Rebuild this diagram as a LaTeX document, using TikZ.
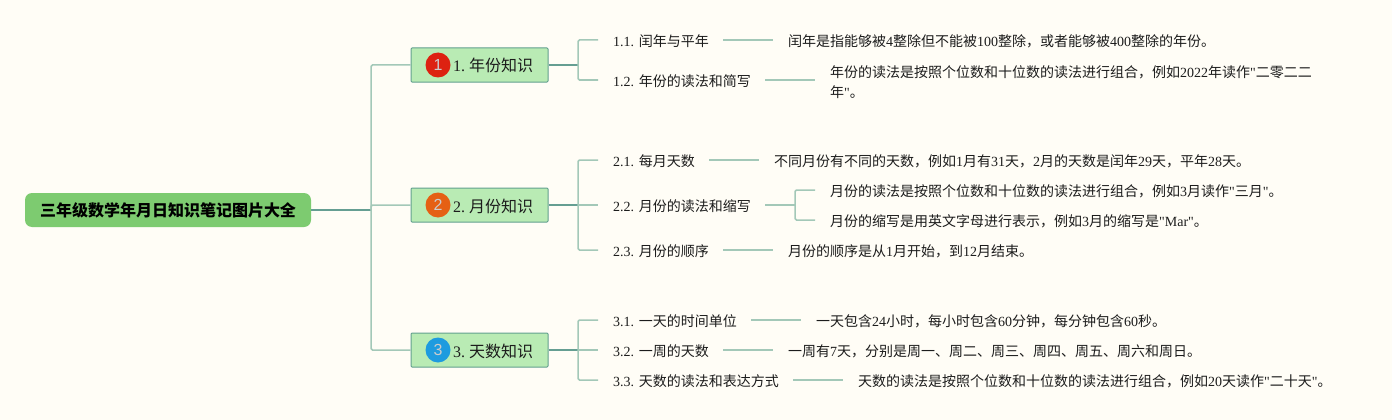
\documentclass[tikz,border=0pt]{standalone}
\usepackage{fontspec}
\setmainfont{Liberation Serif}
\setsansfont{Liberation Sans}
\newfontfamily\cjk{Noto Sans CJK SC}
\newfontfamily\qf{Liberation Serif}
\newcommand\zh[1]{{\cjk #1}}
\newcommand\q{{\qf"}}
\definecolor{bgc}{HTML}{FFFDF6}
\definecolor{rootc}{HTML}{7DCB70}
\definecolor{boxc}{HTML}{B9EBB4}
\definecolor{boxl}{HTML}{62A08E}
\definecolor{darkl}{HTML}{659E92}
\definecolor{lightl}{HTML}{A3C8B8}
\definecolor{inkc}{HTML}{1C1C1C}
\definecolor{badgea}{HTML}{DD2211}
\definecolor{badgeb}{HTML}{E56014}
\definecolor{badgec}{HTML}{1E9BDF}
\tikzset{
 rootn/.style={rectangle,rounded corners=7pt,fill=rootc,minimum width=286pt,minimum height=34pt,inner sep=0pt,font=\fontsize{16}{18}\selectfont\cjk\bfseries,text=black},
 boxn/.style={rectangle,rounded corners=1pt,draw=boxl,line width=1pt,fill=boxc,minimum width=137pt,minimum height=34pt,inner sep=0pt,text height=15pt,text depth=1pt,font=\fontsize{16}{18}\selectfont,text=inkc},
 badge/.style={circle,minimum size=25pt,inner sep=0pt,text=white!80!black,font=\sffamily\fontsize{16}{16}\selectfont},
 subn/.style={anchor=west,inner xsep=15pt,inner ysep=0pt,text height=14pt,text depth=0.5pt,text width=#1,font=\fontsize{14}{18}\selectfont,text=inkc},
 leafn/.style={anchor=west,inner xsep=15pt,inner ysep=0pt,text height=14pt,text depth=0.5pt,text width=#1,font=\fontsize{14}{18}\selectfont,text=inkc},
 leaftwo/.style={anchor=west,inner xsep=15pt,inner ysep=0pt,align=left,text width=#1,font=\fontsize{14}{20}\selectfont,text=inkc},
 main/.style={draw=darkl,line width=1.6pt},
 twig/.style={draw=lightl,line width=1.5pt,rounded corners=1.5pt},
}
\begin{document}
\frenchspacing
\begin{tikzpicture}[x=1pt,y=-1pt]
\useasboundingbox (0,0) rectangle (1392,420);
\fill[bgc] (0,0) rectangle (1392,420);
% root and main branches
\node[rootn] (root) at (168,210) {三年级数学年月日知识笔记图片大全};
\node[boxn] (b1) at (479.5,65) {\hspace*{27pt}1. \zh{年份知识}};
\node[boxn] (b2) at (479.5,205) {\hspace*{27pt}2. \zh{月份知识}};
\node[boxn] (b3) at (479.5,350) {\hspace*{27pt}3. \zh{天数知识}};
\node[badge,fill=badgea] (c1) at (438,65) {1};
\node[badge,fill=badgeb] (c2) at (438,205) {2};
\node[badge,fill=badgec] (c3) at (438,350) {3};
\coordinate (j0) at (371,210);
\coordinate (j1) at (578,65);
\coordinate (j2) at (578,205);
\coordinate (j3) at (578,350);
\coordinate (j22) at (795,205);
% sub topics
\node[subn=95pt] (s11) at (598,40) {\mbox{1.1. \zh{闰年与平年}}};
\node[subn=137pt] (s12) at (598,80) {\mbox{1.2. \zh{年份的读法和简写}}};
\node[subn=81pt] (s21) at (598,160) {\mbox{2.1. \zh{每月天数}}};
\node[subn=137pt] (s22) at (598,205) {\mbox{2.2. \zh{月份的读法和缩写}}};
\node[subn=95pt] (s23) at (598,250) {\mbox{2.3. \zh{月份的顺序}}};
\node[subn=123pt] (s31) at (598,320) {\mbox{3.1. \zh{一天的时间单位}}};
\node[subn=95pt] (s32) at (598,350) {\mbox{3.2. \zh{一周的天数}}};
\node[subn=165pt] (s33) at (598,380) {\mbox{3.3. \zh{天数的读法和表达方式}}};
% leaves
\node[leafn=440pt] (l11) at (773,40) {\zh{闰年是指能够被}4\zh{整除但不能被}100\zh{整除，或者能够被}400\zh{整除的年份。}};
\node[leaftwo=490pt] (l12) at (815,80) {\rule{0pt}{16pt}\zh{年份的读法是按照个位数和十位数的读法进行组合，例如}2022\zh{年读作}\q\zh{二零二二}\\\zh{年}\q\zh{。}};
\node[leafn=490pt] (l21) at (759,160) {\zh{不同月份有不同的天数，例如}1\zh{月有}31\zh{天，}2\zh{月的天数是闰年}29\zh{天，平年}28\zh{天。}};
\node[leafn=480pt] (l221) at (815,190) {\zh{月份的读法是按照个位数和十位数的读法进行组合，例如}3\zh{月读作}\q\zh{三月}\q\zh{。}};
\node[leafn=480pt] (l222) at (815,220) {\zh{月份的缩写是用英文字母进行表示，例如}3\zh{月的缩写是}\q Mar\q\zh{。}};
\node[leafn=400pt] (l23) at (773,250) {\zh{月份的顺序是从}1\zh{月开始，到}12\zh{月结束。}};
\node[leafn=400pt] (l31) at (801,320) {\zh{一天包含}24\zh{小时，每小时包含}60\zh{分钟，每分钟包含}60\zh{秒。}};
\node[leafn=440pt] (l32) at (773,350) {\zh{一周有}7\zh{天，分别是周一、周二、周三、周四、周五、周六和周日。}};
\node[leafn=480pt] (l33) at (843,380) {\zh{天数的读法是按照个位数和十位数的读法进行组合，例如}20\zh{天读作}\q\zh{二十天}\q\zh{。}};
% connectors
\draw[main] (root.east) -- (j0);
\draw[twig] (j0) |- (b1.west);
\draw[twig] (j0) |- (b2.west);
\draw[twig] (j0) |- (b3.west);
\draw[main] (b1.east) -- (j1);
\draw[main] (b2.east) -- (j2);
\draw[main] (b3.east) -- (j3);
\draw[twig] (j1) |- (s11.west);
\draw[twig] (j1) |- (s12.west);
\draw[twig] (j2) |- (s21.west);
\draw[twig] (j2) -- (s22.west);
\draw[twig] (j2) |- (s23.west);
\draw[twig] (j3) |- (s31.west);
\draw[twig] (j3) -- (s32.west);
\draw[twig] (j3) |- (s33.west);
\draw[twig] (s11.east) -- (l11.west);
\draw[twig] (s12.east) -- (l12.west);
\draw[twig] (s21.east) -- (l21.west);
\draw[twig] (s22.east) -- (j22);
\draw[twig] (j22) |- (l221.west);
\draw[twig] (j22) |- (l222.west);
\draw[twig] (s23.east) -- (l23.west);
\draw[twig] (s31.east) -- (l31.west);
\draw[twig] (s32.east) -- (l32.west);
\draw[twig] (s33.east) -- (l33.west);
\end{tikzpicture}
\end{document}
